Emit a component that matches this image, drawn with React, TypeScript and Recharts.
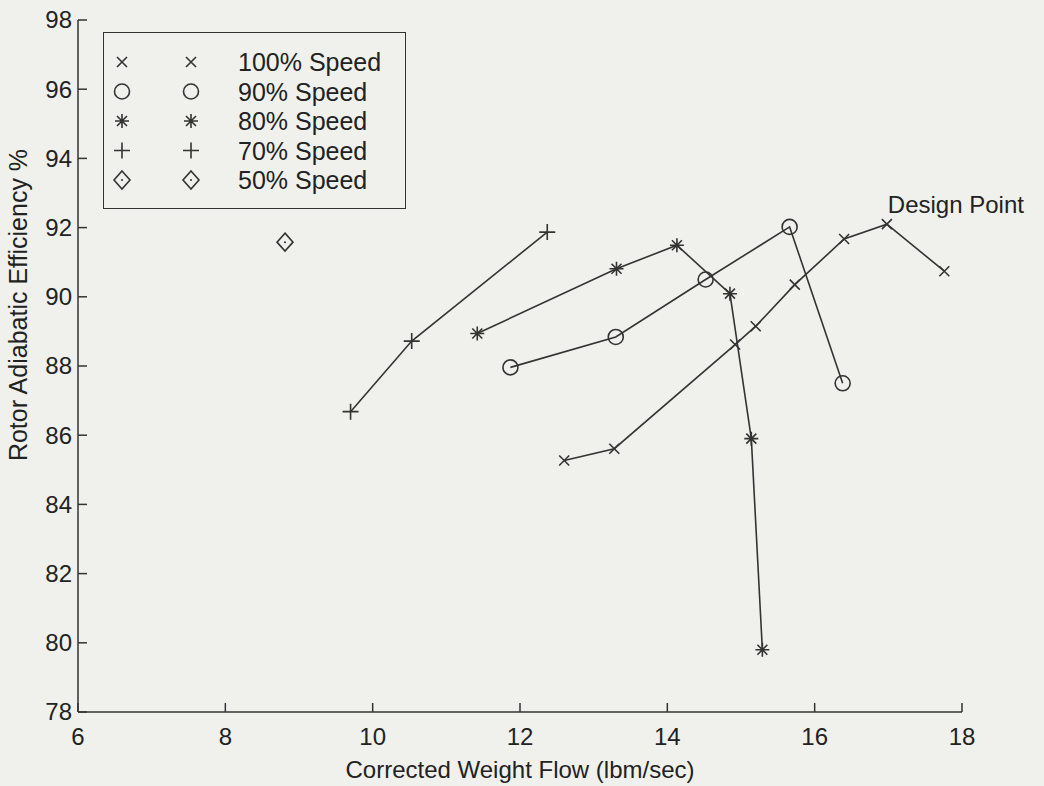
import React from "react";
import { ScatterChart, Scatter, XAxis, YAxis, ReferenceDot } from "recharts";

// compressor rotor map, one pair of arrays per speed line
const speedNames = ["100% Speed", "90% Speed", "80% Speed", "70% Speed", "50% Speed"];
const markerKinds = ["x", "o", "*", "+", "d"];

const flow100 = [12.6, 13.28, 14.92, 15.2, 15.73, 16.4, 16.98, 17.76];
const eff100 = [85.27, 85.61, 88.62, 89.15, 90.35, 91.67, 92.1, 90.74];
const flow90 = [11.87, 13.3, 14.52, 15.66, 16.38];
const eff90 = [87.96, 88.84, 90.5, 92.02, 87.5];
const flow80 = [11.42, 13.31, 14.13, 14.85, 15.14, 15.29];
const eff80 = [88.94, 90.81, 91.49, 90.09, 85.9, 79.8];
const flow70 = [9.7, 10.53, 12.37];
const eff70 = [86.68, 88.72, 91.87];
const flow50 = [8.81];
const eff50 = [91.58];

const xTicks = [6, 8, 10, 12, 14, 16, 18];
const yTicks = [78, 80, 82, 84, 86, 88, 90, 92, 94, 96, 98];
const designFlow = 16.98;
const designEff = 92.1;

const INK = "#333";
const BG = "#f0f1ec";
const FONT = "'Liberation Sans', Arial, Helvetica, sans-serif";
const FS = 24;

const toPoints = (xs: number[], ys: number[]) => xs.map((x, i) => ({ flow: x, eff: ys[i] }));
const series = [
  toPoints(flow100, eff100),
  toPoints(flow90, eff90),
  toPoints(flow80, eff80),
  toPoints(flow70, eff70),
  toPoints(flow50, eff50),
];

function marker(kind: string, cx: number, cy: number) {
  const s = { stroke: INK, strokeWidth: 1.6, fill: "none" };
  if (kind === "x") {
    const r = 5;
    return <path d={`M${cx - r},${cy - r}L${cx + r},${cy + r}M${cx - r},${cy + r}L${cx + r},${cy - r}`} {...s} />;
  }
  if (kind === "o") return <circle cx={cx} cy={cy} r={7.5} {...s} />;
  if (kind === "+") {
    const r = 8;
    return <path d={`M${cx - r},${cy}L${cx + r},${cy}M${cx},${cy - r}L${cx},${cy + r}`} {...s} />;
  }
  if (kind === "*") {
    const r = 7;
    const d = 5;
    return (
      <path
        d={`M${cx - r},${cy}L${cx + r},${cy}M${cx},${cy - r}L${cx},${cy + r}M${cx - d},${cy - d}L${cx + d},${cy + d}M${cx - d},${cy + d}L${cx + d},${cy - d}`}
        {...s}
      />
    );
  }
  // diamond with a dot in it
  return (
    <g>
      <path d={`M${cx},${cy - 9}L${cx + 8},${cy}L${cx},${cy + 9}L${cx - 8},${cy}Z`} {...s} />
      <circle cx={cx} cy={cy} r={1} fill={INK} />
    </g>
  );
}

const XTick = (props: any) => {
  const { x, y, payload } = props;
  return (
    <g>
      <line x1={x} y1={y} x2={x} y2={y - 9} stroke={INK} strokeWidth={1.5} />
      <text x={x} y={y + 33} textAnchor="middle" fill="#222" fontSize={FS} fontFamily={FONT}>
        {payload.value}
      </text>
    </g>
  );
};

const YTick = (props: any) => {
  const { x, y, payload } = props;
  return (
    <g>
      <line x1={x} y1={y} x2={x + 9} y2={y} stroke={INK} strokeWidth={1.5} />
      <text x={x - 6} y={y} dy="0.35em" textAnchor="end" fill="#222" fontSize={FS} fontFamily={FONT}>
        {payload.value}
      </text>
    </g>
  );
};

const DesignLabel = (props: any) => {
  const vb = props.viewBox || { x: 0, y: 0 };
  return (
    <text x={vb.x + 1} y={vb.y - 11} fill="#222" fontSize={FS} fontFamily={FONT}>
      Design Point
    </text>
  );
};

function LegendBox() {
  return (
    <div
      style={{
        position: "absolute",
        left: 103,
        top: 32,
        width: 303,
        height: 177,
        boxSizing: "border-box",
        border: `1.5px solid ${INK}`,
        background: BG,
      }}
    >
      <svg width={300} height={174} style={{ position: "absolute", left: 0, top: 0 }}>
        {speedNames.map((name, i) => {
          const cy = 29 + i * 29.5;
          return (
            <g key={name}>
              {marker(markerKinds[i], 18, cy)}
              {marker(markerKinds[i], 87, cy)}
              <text x={134} y={cy} dy="0.36em" fill="#222" fontSize={FS + 1} fontFamily={FONT}>
                {name}
              </text>
            </g>
          );
        })}
      </svg>
    </div>
  );
}

export default function App() {
  return (
    <div style={{ position: "relative", width: 1044, height: 786, background: BG, overflow: "hidden" }}>
      <style>{`body{margin:0}`}</style>
      <ScatterChart width={1044} height={786} margin={{ top: 20, right: 82, bottom: 0, left: 0 }}>
        <XAxis
          type="number"
          dataKey="flow"
          domain={[6, 18]}
          ticks={xTicks}
          height={74}
          tickSize={0}
          tickMargin={0}
          tick={<XTick />}
          axisLine={{ stroke: INK, strokeWidth: 1.5 }}
          tickLine={false}
          label={{
            content: () => (
              <text x={520} y={778} textAnchor="middle" fill="#222" fontSize={FS} fontFamily={FONT}>
                Corrected Weight Flow (lbm/sec)
              </text>
            ),
          }}
        />
        <YAxis
          type="number"
          dataKey="eff"
          domain={[78, 98]}
          ticks={yTicks}
          width={78}
          tickSize={0}
          tickMargin={0}
          tick={<YTick />}
          axisLine={{ stroke: INK, strokeWidth: 1.5 }}
          tickLine={false}
          label={{
            content: () => (
              <text
                x={27}
                y={305}
                transform="rotate(-90 27 305)"
                textAnchor="middle"
                fill="#222"
                fontSize={FS + 1}
                fontFamily={FONT}
              >
                Rotor Adiabatic Efficiency %
              </text>
            ),
          }}
        />
        {series.map((pts, i) => (
          <Scatter
            key={speedNames[i]}
            name={speedNames[i]}
            data={pts}
            isAnimationActive={false}
            line={pts.length > 1 ? { stroke: INK, strokeWidth: 1.6 } : false}
            lineType="joint"
            shape={(p: any) => marker(markerKinds[i], p.cx, p.cy)}
          />
        ))}
        <ReferenceDot
          x={designFlow}
          y={designEff}
          r={0}
          fill="none"
          stroke="none"
          label={{ content: DesignLabel }}
        />
      </ScatterChart>
      <LegendBox />
    </div>
  );
}
